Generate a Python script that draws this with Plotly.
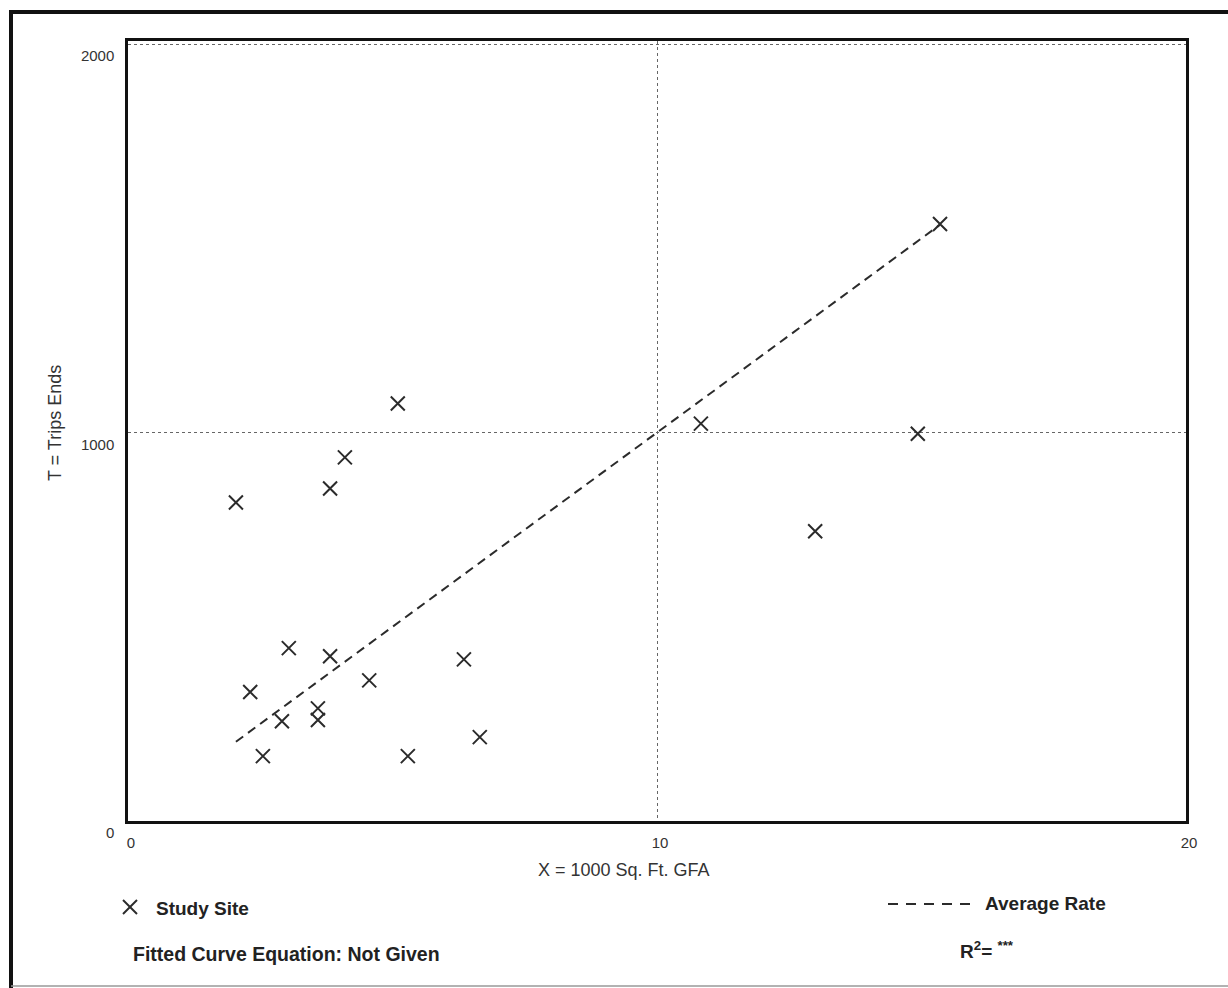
import plotly.graph_objects as go

# Study-site observations: X = 1000 sq. ft. GFA, T = trip ends
site_gfa = [2.04, 2.31, 2.55, 2.91, 3.04, 3.59, 3.59, 3.82, 3.82, 4.10,
            4.56, 5.10, 5.29, 6.35, 6.65, 10.83, 12.99, 14.93, 15.35]
site_trips = [820, 332, 167, 257, 445, 290, 260, 856, 424, 936,
              362, 1075, 167, 416, 216, 1023, 746, 997, 1537]

# Average trip rate (trip ends per 1000 sq. ft. GFA)
avg_rate = 100.0

x_ticks = [0, 10, 20]
y_ticks = [0, 1000, 2000]

FONT = "Liberation Sans, Arial, sans-serif"
INK = "#2b2b2b"

W, H = 1228, 988
ML, MR, MT, MB = 128, 42, 41, 167
PW, PH = W - ML - MR, H - MT - MB


def px(xp):
    return (xp - ML) / PW


def py(yp):
    return (H - MB - yp) / PH


fig = go.Figure()

# Average-rate line spanning the observed range of X
x_lo, x_hi = min(site_gfa), max(site_gfa)
fig.add_trace(go.Scatter(
    x=[x_lo, x_hi], y=[avg_rate * x_lo, avg_rate * x_hi],
    mode="lines", line=dict(color=INK, width=2, dash="9px,6px"),
    hoverinfo="skip", showlegend=False))

fig.add_trace(go.Scatter(
    x=site_gfa, y=site_trips, mode="markers",
    marker=dict(symbol="x-thin", size=14, line=dict(color=INK, width=2)),
    showlegend=False))

axis_common = dict(
    showline=True, mirror=True, linecolor="#111", linewidth=2.5,
    showgrid=True, gridcolor="#666", gridwidth=1, griddash="dot",
    zeroline=False, ticks="",
    tickfont=dict(family=FONT, size=15, color="#333"),
)

fig.update_xaxes(range=[0, 20], tickvals=x_ticks, ticktext=[str(v) for v in x_ticks],
                 ticklabelstandoff=6, ticklabelshift=3, **axis_common)
fig.update_yaxes(range=[0, 2008], tickvals=y_ticks, ticktext=[str(v) for v in y_ticks],
                 ticklabelstandoff=8, ticklabelshift=12, **axis_common)

annotations = [
    dict(text="X = 1000 Sq. Ft. GFA", x=px(624), y=py(870),
         font=dict(size=18, color="#333")),
    dict(text="T = Trips Ends", x=px(55), y=py(423), textangle=-90,
         font=dict(size=18, color="#333")),
    dict(text="<b>Study Site</b>", x=px(154), y=py(908), xanchor="left",
         font=dict(size=19, color="#222")),
    dict(text="<b>Fitted Curve Equation: Not Given</b>", x=px(131), y=py(954),
         xanchor="left", font=dict(size=19.5, color="#222")),
    dict(text="<b>Average Rate</b>", x=px(983), y=py(903), xanchor="left",
         font=dict(size=19, color="#222")),
    dict(text="<b>R<sup>2</sup>= <sup>***</sup></b>", x=px(958), y=py(950),
         xanchor="left", font=dict(size=19, color="#222")),
]
for a in annotations:
    a.setdefault("xref", "paper")
    a.setdefault("yref", "paper")
    a.setdefault("xanchor", "center")
    a.setdefault("yanchor", "middle")
    a.setdefault("showarrow", False)
    a["font"]["family"] = FONT
fig.update_layout(annotations=annotations)

shapes = []
# Legend glyph: study-site cross
cx, cy, r = 130, 907, 7
for dx in (-r, r):
    shapes.append(dict(type="line", xref="paper", yref="paper",
                       x0=px(cx - r), y0=py(cy - dx), x1=px(cx + r), y1=py(cy + dx),
                       line=dict(color=INK, width=2)))
# Legend glyph: average-rate dashes
shapes.append(dict(type="line", xref="paper", yref="paper",
                   x0=px(888), y0=py(904), x1=px(971), y1=py(904),
                   line=dict(color=INK, width=2, dash="10px,8px")))
# Outer page frame
shapes.append(dict(type="line", xref="paper", yref="paper",
                   x0=px(11), y0=py(10), x1=px(11), y1=py(988),
                   line=dict(color="#111", width=4)))
shapes.append(dict(type="line", xref="paper", yref="paper",
                   x0=px(9), y0=py(12), x1=px(1228), y1=py(12),
                   line=dict(color="#111", width=4)))
shapes.append(dict(type="line", xref="paper", yref="paper",
                   x0=px(11), y0=py(986), x1=px(1228), y1=py(986),
                   line=dict(color="#999", width=1.5)))
fig.update_layout(shapes=shapes)

fig.update_layout(
    width=W, height=H,
    margin=dict(l=ML, r=MR, t=MT, b=MB),
    paper_bgcolor="white", plot_bgcolor="white",
    font=dict(family=FONT),
    showlegend=False,
)

fig.write_html("out.html")
